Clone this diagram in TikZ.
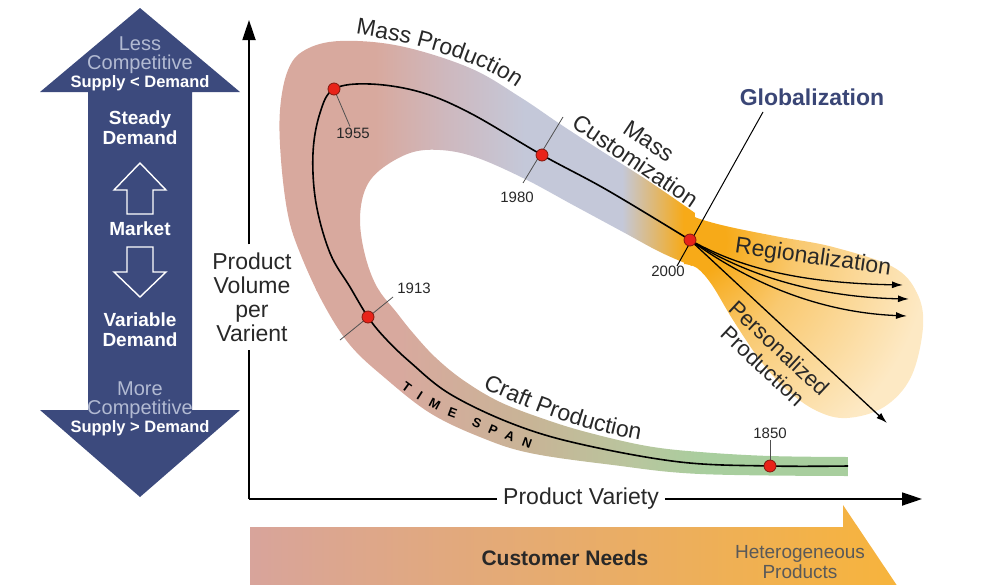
\documentclass[tikz,border=0pt]{standalone}
\usepackage{fontspec}
\setmainfont{Liberation Sans}
\usetikzlibrary{arrows.meta,decorations.text}

\definecolor{mktblue}{RGB}{60,74,125}
\definecolor{mktlight}{RGB}{178,186,210}
\definecolor{pinkA}{RGB}{216,169,158}
\definecolor{mauveA}{RGB}{206,184,190}
\definecolor{blueA}{RGB}{196,200,217}
\definecolor{orgA}{RGB}{247,170,24}
\definecolor{orgB}{RGB}{249,201,112}
\definecolor{paleA}{RGB}{253,233,196}
\definecolor{tanA}{RGB}{200,180,150}
\definecolor{oliveA}{RGB}{184,198,158}
\definecolor{greenA}{RGB}{168,206,158}
\definecolor{dotred}{RGB}{232,35,25}
\definecolor{dotedge}{RGB}{130,25,15}
\definecolor{txtgray}{RGB}{40,40,40}
\definecolor{tickgray}{RGB}{80,80,80}
\definecolor{globblue}{RGB}{58,70,118}
\definecolor{needL}{RGB}{216,164,155}
\definecolor{needR}{RGB}{247,180,60}

\pgfdeclarehorizontalshading{uppershade}{100bp}{color(0bp)=(pinkA); color(37bp)=(pinkA);
  color(45bp)=(mauveA); color(54bp)=(blueA); color(65bp)=(blueA); color(72bp)=(orgA); color(100bp)=(orgA)}
\pgfdeclarehorizontalshading{lowershade}{100bp}{color(0bp)=(pinkA); color(36bp)=(pinkA);
  color(47bp)=(tanA); color(56bp)=(oliveA); color(62bp)=(greenA); color(100bp)=(greenA)}
\pgfdeclareradialshading{bulbshade}{\pgfpoint{0bp}{0bp}}{color(0bp)=(orgA); color(3bp)=(orgA);
  color(9bp)=(orgB); color(20bp)=(paleA); color(50bp)=(paleA)}

\begin{document}
\begin{tikzpicture}[
  x=1pt, y=-1pt,
  big/.style={font=\fontsize{23}{24}\selectfont, text=txtgray, align=center, inner sep=0pt},
  yearlbl/.style={font=\fontsize{15}{16}\selectfont, text=txtgray, inner sep=1pt},
  dot/.style={circle, draw=dotedge, fill=dotred, line width=0.8pt, minimum size=12pt, inner sep=0pt},
  tick/.style={draw=tickgray, line width=0.8pt},
  curve/.style={line width=1.6pt},
  arr/.style={-{Latex[length=11pt,width=7pt]}, line width=1.3pt},
  axis/.style={line width=1.8pt},
  axarr/.style={axis, -{Triangle[length=20pt,width=13pt]}},
  mktbold/.style={font=\bfseries\fontsize{19}{20}\selectfont, text=white, align=center},
  mktthin/.style={font=\fontsize{20}{19}\selectfont, text=mktlight, align=center},
  mktsmall/.style={font=\bfseries\fontsize{16.5}{17}\selectfont, text=white},
  outl/.style={draw=white, line width=1.4pt, fill=mktblue},
  spanlbl/.style={decorate, decoration={text along path, text align=fit to path, text color=black,
    text={|\bfseries\fontsize{13}{14}\selectfont|#1}}},
]
\useasboundingbox (0,0) rectangle (995,584);

% market arrow
\fill[mktblue] (140,8) -- (240,92) -- (192,92) -- (192,410) -- (240,410) -- (140,497)
  -- (40,410) -- (88,410) -- (88,92) -- (40,92) -- cycle;
\draw[outl] (140,163) -- (166,190) -- (153,190) -- (153,214) -- (127,214) -- (127,190) -- (114,190) -- cycle;
\draw[outl] (127,247) -- (153,247) -- (153,272) -- (166,272) -- (140,297) -- (114,272) -- (127,272) -- cycle;
\node[mktthin] (less) at (140,55) {Less\\Competitive};
\node[mktsmall] (supA) at (140,83) {Supply < Demand};
\node[mktbold] (steady) at (140,128) {Steady\\Demand};
\node[mktbold] (market) at (140,229) {Market};
\node[mktbold] (variable) at (140,330) {Variable\\Demand};
\node[mktthin] (more) at (140,400) {More\\Competitive};
\node[mktsmall] (supB) at (140,428) {Supply > Demand};

% band
\begin{scope}
  \clip (695,213) -- plot[smooth, tension=0.6] coordinates {(695,213) (650,182) (600,150) (560,124)
    (520,97) (470,68) (400,46) (340,41) (305,50) (288,70) (280,110) (281,160) (288,215) (300,253)
    (323,303) (350,345) (385,378) (430,413) (480,437) (530,453) (613,465) (700,474) (848,476)}
    -- (848,457) -- plot[smooth, tension=0.6] coordinates {(848,457) (770,456) (700,452) (647,446)
    (590,433) (547,420) (500,402) (463,380) (435,357) (413,333) (397,313) (377,287) (365,255)
    (360,220) (365,190) (380,170) (410,153) (440,150) (475,157) (523,178) (573,205) (623,232)
    (660,252) (692,266)} -- cycle;
  \shade[shading=uppershade] (270,30) rectangle (710,290);
  \shade[shading=lowershade] (270,290) rectangle (860,480);
\end{scope}
\begin{scope}
  \clip (684,212) -- plot[smooth, tension=0.6] coordinates {(684,212) (700,219) (730,227) (780,237)
    (833,247) (893,267) (917,293) (923,327) (911,377) (884,407) (847,418) (817,411) (787,390)
    (760,360) (733,320) (712,285) (697,268) (684,264)} -- cycle;
  \shade[shading=bulbshade] (690,240) circle (300pt);
\end{scope}

% years
\coordinate (p1850) at (770,466);
\coordinate (p1913) at (368,317);
\coordinate (p1955) at (334,89);
\coordinate (p1980) at (542,155);
\coordinate (p2000) at (690,240);
\node[yearlbl] (l1850) at (770,433) {1850};
\node[yearlbl] (l1913) at (414,288) {1913};
\node[yearlbl] (l1955) at (353,133) {1955};
\node[yearlbl] (l1980) at (517,197) {1980};
\node[yearlbl] (l2000) at (668,271) {2000};

\coordinate (t13a) at (340,340);
\coordinate (t13b) at (393,297);
\coordinate (t80a) at (563,117);
\coordinate (t80b) at (523,183);
\coordinate (gtop) at (763,112);
\coordinate (gbot) at (677,266);
\draw[tick] (t13a) -- (t13b);
\draw[tick] (t80a) -- (t80b);
\draw[tick] (p1955) -- ([xshift=-3pt]l1955.north);
\draw[tick] (p1850) -- (l1850.south);
\draw[line width=1pt] (gtop) -- (gbot);

\draw[curve] plot[smooth, tension=0.6] coordinates {(848,466) (p1850) (680,462) (580,444) (513,424)
  (450,394) (410,362) (385,338) (p1913) (350,287) (330,253) (316,203) (313,153) (320,113) (p1955)
  (370,84) (420,92) (470,113) (p1980) (607,190) (p2000)};

\coordinate (r1) at (903,285);
\coordinate (r2) at (909,299);
\coordinate (r3) at (907,316);
\coordinate (pers) at (887,423);
\draw[arr] (p2000) .. controls (740,268) and (800,283) .. (r1);
\draw[arr] (p2000) .. controls (740,272) and (810,297) .. (r2);
\draw[arr] (p2000) .. controls (740,276) and (810,312) .. (r3);
\draw[arr] (p2000) -- (pers);

\foreach \y in {1850,1913,1955,1980,2000}
  \node[dot] (d\y) at (p\y) {};

% labels
\node[font=\bfseries\fontsize{23}{24}\selectfont, text=globblue] (glob) at (812,97) {Globalization};
\node[big, rotate=-34] (masscust) at (642,151) {Mass\\Customization};
\node[big, rotate=-8] (region) at (813,258) {Regionalization};
\node[big, font=\fontsize{22}{24}\selectfont, rotate=-43] (persprod) at (771,357) {Personalized\\Production};
\path[decorate, decoration={text along path, text align=center, text color=txtgray,
  text={|\fontsize{23}{24}\selectfont|Mass Production}}] (349,33) .. controls (395,40) and (475,55) .. (522,92);
\path[decorate, decoration={text along path, text align=center, text color=txtgray,
  text={|\fontsize{23}{24}\selectfont|Craft Production}}] (478,386) .. controls (530,410) and (580,430) .. (645,441);
\path[spanlbl=TIME] (401,388) .. controls (420,402) and (437,412) .. (455,418);
\path[spanlbl=SPAN] (471,425) .. controls (490,433) and (510,442) .. (530,449);

% axes
\coordinate (O) at (249,499);
\coordinate (ytop) at (249,20);
\coordinate (xend) at (922,499);
\node[big, inner ysep=8pt] (ylbl) at (252,297) {Product\\Volume\\per\\Varient};
\node[big, inner xsep=6pt] (xlbl) at (581,499) {Product Variety};
\draw[axis] (O) -- (ylbl.south -| O);
\draw[axarr] (ylbl.north -| O) -- (ytop);
\draw[axis] (O) -- (xlbl.west);
\draw[axarr] (xlbl.east) -- (xend);

% customer needs
\begin{scope}
  \clip (0,0) rectangle (995,584);
  \shade[left color=needL, right color=needR] (250,527) -- (843,527) -- (843,505) -- (900,590)
    -- (843,675) -- (843,653) -- (250,653) -- cycle;
\end{scope}
\node[font=\bfseries\fontsize{21}{22}\selectfont, text=txtgray] (needs) at (565,558) {Customer Needs};
\node[font=\fontsize{19}{20}\selectfont, text=black!65, align=center] (hetero) at (800,562) {Heterogeneous\\Products};

\end{tikzpicture}
\end{document}
